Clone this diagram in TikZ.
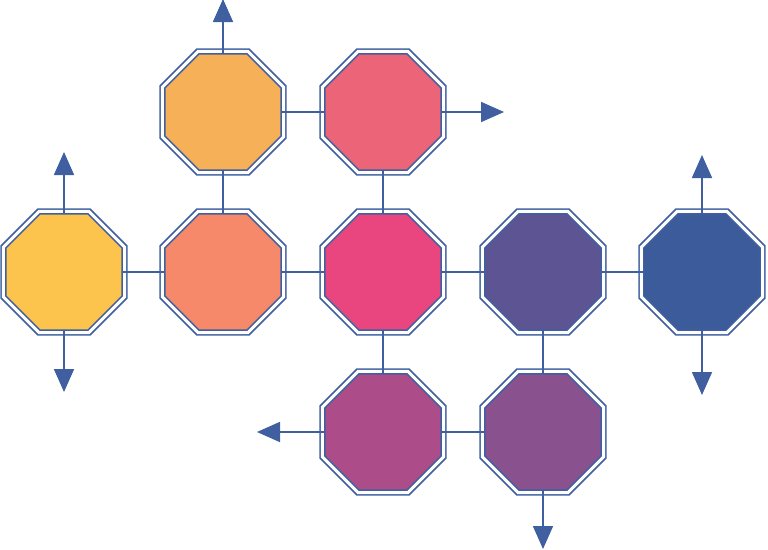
\documentclass[tikz,border=0pt]{standalone}
\usetikzlibrary{shapes.geometric,arrows.meta}
\definecolor{edge}{RGB}{63,95,160}
\definecolor{yel}{RGB}{252,196,76}
\definecolor{ora}{RGB}{245,176,88}
\definecolor{sal}{RGB}{246,137,106}
\definecolor{rose}{RGB}{236,100,120}
\definecolor{pnk}{RGB}{233,70,128}
\definecolor{pur}{RGB}{93,84,148}
\definecolor{blu}{RGB}{59,91,155}
\definecolor{mag}{RGB}{172,76,136}
\definecolor{vio}{RGB}{138,81,143}
\begin{document}
\begin{tikzpicture}[x=1pt,y=-1pt,>={Triangle[length=23pt,width=20pt]},
  oct/.style={regular polygon, regular polygon sides=8, minimum size=131pt, inner sep=0pt,
    draw=edge, double=white, line width=1.7pt, double distance=3pt},
  link/.style={draw=edge, line width=1.7pt, shorten <=-2pt, shorten >=-2pt}]
\useasboundingbox (0,0) rectangle (768,549);
% octagons
\node[oct, fill=ora] (t1) at (223,112) {};
\node[oct, fill=rose] (t2) at (383,112) {};
\node[oct, fill=yel] (m1) at (64,272) {};
\node[oct, fill=sal] (m2) at (223,272) {};
\node[oct, fill=pnk] (m3) at (383,272) {};
\node[oct, fill=pur] (m4) at (543,272) {};
\node[oct, fill=blu] (m5) at (702,272) {};
\node[oct, fill=mag] (b1) at (383,432) {};
\node[oct, fill=vio] (b2) at (543,432) {};
% free ends of the arrows
\coordinate (t1out) at (223,1);
\coordinate (t2out) at (502,112);
\coordinate (m1up) at (64,154);
\coordinate (m1dn) at (64,390);
\coordinate (m5up) at (702,157);
\coordinate (m5dn) at (702,393);
\coordinate (b1out) at (259,432);
\coordinate (b2out) at (543,547);
% links
\draw[link] (t1) -- (t2);
\draw[link] (t1) -- (m2);
\draw[link] (t2) -- (m3);
\draw[link] (m1) -- (m2);
\draw[link] (m2) -- (m3);
\draw[link] (m3) -- (m4);
\draw[link] (m4) -- (m5);
\draw[link] (m3) -- (b1);
\draw[link] (m4) -- (b2);
\draw[link] (b1) -- (b2);
% arrows
\draw[link, ->] (t1) -- (t1out);
\draw[link, ->] (t2) -- (t2out);
\draw[link, ->] (m1) -- (m1up);
\draw[link, ->] (m1) -- (m1dn);
\draw[link, ->] (m5) -- (m5up);
\draw[link, ->] (m5) -- (m5dn);
\draw[link, ->] (b1) -- (b1out);
\draw[link, ->] (b2) -- (b2out);
\end{tikzpicture}
\end{document}
